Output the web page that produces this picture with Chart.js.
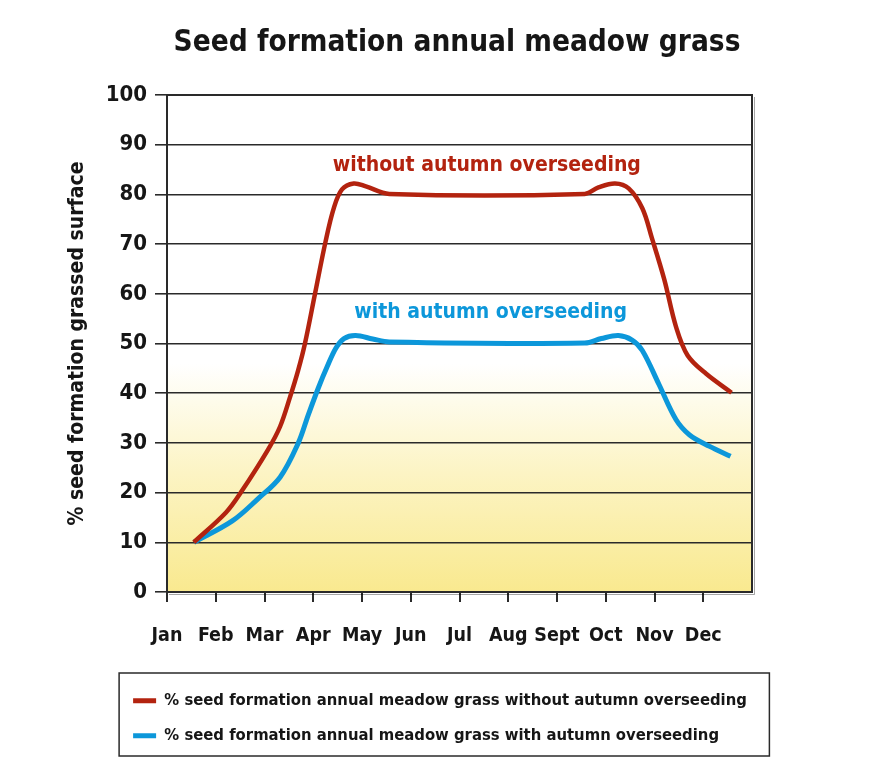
<!DOCTYPE html>
<html>
<head>
<meta charset="utf-8">
<script src="https://cdn.jsdelivr.net/npm/chart.js@4/dist/chart.umd.min.js"></script>
<style>
  html, body { margin: 0; padding: 0; background: #fff; }
  #wrap { width: 876px; height: 776px; position: relative; }
</style>
</head>
<body>
<div id="wrap"><canvas id="c" width="876" height="776"></canvas></div>
<script>
// ---- data ----
const months = ['Jan','Feb','Mar','Apr','May','Jun','Jul','Aug','Sept','Oct','Nov','Dec'];

// month position (0 = Jan) and % value
const withoutX = [0.55, 1.21, 1.52, 2.07, 2.32, 2.52, 2.69, 2.83, 3.04, 3.25, 3.42, 3.59, 3.83, 4.08, 4.56, 8.57, 8.85, 9.19, 9.47, 9.75, 9.95, 10.2, 10.44, 10.68, 11.06, 11.58];
const withoutY = [10, 16, 20.1, 28.6, 33.3, 39.1, 44.6, 50, 60.2, 70.4, 77.2, 81, 82.2, 81.6, 80.1, 80.1, 81.4, 82.2, 81.2, 77.2, 71.1, 62.9, 53.4, 47.6, 43.9, 40.1];

const withX = [0.55, 1.34, 1.86, 2.32, 2.69, 2.9, 3.11, 3.28, 3.46, 3.63, 3.87, 4.22, 4.56, 8.57, 8.91, 9.26, 9.54, 9.75, 10.09, 10.44, 10.72, 11.13, 11.56];
const withY = [10, 14.3, 18.7, 23.1, 29.9, 35.7, 41.2, 45.2, 49, 51, 51.6, 50.9, 50.3, 50.1, 51, 51.6, 50.7, 48.6, 41.8, 34.7, 31.6, 29.3, 27.3];

const seriesLabels = [
  '% seed formation annual meadow grass without autumn overseeding',
  '% seed formation annual meadow grass with autumn overseeding'
];
const annotationTexts = ['without autumn overseeding', 'with autumn overseeding'];
const annotationAt = [[6.56, 85.9], [6.64, 56.3]];

const titleText = 'Seed formation annual meadow grass';
const yTitle = '% seed formation grassed surface';

const RED = '#B3230F';
const BLUE = '#0C97DA';
const FONT = '"DejaVu Sans Condensed", "Liberation Sans Narrow", sans-serif';
const INK = '#161616';
const LEGEND_SHIFT = 17; // legend sits a little left of the title centre

const toPts = (xs, ys) => xs.map((x, i) => ({x, y: ys[i]}));

const bgPlugin = {
  id: 'bg',
  beforeDraw(chart) {
    const {ctx, chartArea: a, scales: {y}} = chart;
    const g = ctx.createLinearGradient(0, a.top, 0, a.bottom);
    const yStart = (y.getPixelForValue(46) - a.top) / (a.bottom - a.top);
    g.addColorStop(0, '#ffffff');
    g.addColorStop(yStart, '#ffffff');
    g.addColorStop(0.76, '#FCF4C4');
    g.addColorStop(1, '#F9E98F');
    ctx.save();
    ctx.fillStyle = g;
    ctx.fillRect(a.left, a.top, a.right - a.left, a.bottom - a.top);
    ctx.restore();
  },
  afterDraw(chart) {
    const {ctx, chartArea: a} = chart;
    ctx.save();
    ctx.strokeStyle = '#2a2a2a';
    ctx.lineWidth = 2;
    ctx.beginPath();
    ctx.moveTo(a.left, a.top);
    ctx.lineTo(a.right, a.top);
    ctx.lineTo(a.right, a.bottom);
    ctx.stroke();
    ctx.strokeStyle = 'rgba(0,0,0,0.35)';
    ctx.lineWidth = 1;
    ctx.beginPath();
    ctx.moveTo(a.right + 2.5, a.top + 2);
    ctx.lineTo(a.right + 2.5, a.bottom + 2.5);
    ctx.lineTo(a.left + 2, a.bottom + 2.5);
    ctx.stroke();
    // legend frame
    const lg = chart.legend;
    if (lg && lg.lineWidths && lg._realMax) {
      const P = lg.options.labels.padding;
      const x0 = (lg.left + P + lg.right - lg.lineWidths[0]) / 2;
      ctx.strokeStyle = '#2a2a2a';
      ctx.lineWidth = 1.5;
      ctx.strokeRect(x0 - 14, lg.top - 1, lg._realMax + 18, lg.bottom - lg.top + 3);
    }
    ctx.restore();
  }
};

const annPlugin = {
  id: 'ann',
  afterDatasetsDraw(chart) {
    const {ctx, scales: {x, y}} = chart;
    ctx.save();
    ctx.font = 'bold 21px ' + FONT;
    ctx.textAlign = 'center';
    ctx.textBaseline = 'middle';
    const cols = [RED, BLUE];
    annotationTexts.forEach((t, i) => {
      ctx.fillStyle = cols[i];
      ctx.fillText(t, x.getPixelForValue(annotationAt[i][0]), y.getPixelForValue(annotationAt[i][1]));
    });
    ctx.restore();
  }
};

const legendRowsPlugin = {
  id: 'legendRows',
  afterUpdate(chart) {
    const lg = chart.legend;
    if (lg && lg.lineWidths) {
      const m = Math.max(...lg.lineWidths);
      lg._realMax = m;
      lg.lineWidths = lg.lineWidths.map(() => m + 2 * LEGEND_SHIFT);
    }
  }
};

new Chart(document.getElementById('c'), {
  type: 'line',
  data: {
    datasets: [
      { label: seriesLabels[0], data: toPts(withoutX, withoutY), borderColor: RED, backgroundColor: RED, borderWidth: 4.5, pointRadius: 0, tension: 0.35, fill: false },
      { label: seriesLabels[1], data: toPts(withX, withY), borderColor: BLUE, backgroundColor: BLUE, borderWidth: 5, pointRadius: 0, tension: 0.35, fill: false }
    ]
  },
  options: {
    responsive: false,
    animation: false,
    layout: { padding: { left: 38, right: 0, top: 0, bottom: 22 } },
    plugins: {
      title: {
        display: true, text: titleText, color: INK,
        font: { family: FONT, size: 29.5, weight: 'bold', lineHeight: 1.2 },
        padding: { top: 26, bottom: 33.6 }
      },
      legend: {
        position: 'bottom',
        labels: {
          font: { family: FONT, size: 16.5, weight: 'bold' },
          color: INK,
          boxWidth: 23, boxHeight: 5, padding: 18.5,
          generateLabels(chart) {
            return chart.data.datasets.map((d, i) => ({
              text: d.label, fillStyle: d.borderColor, strokeStyle: d.borderColor,
              lineWidth: 0, hidden: false, datasetIndex: i, fontColor: INK
            }));
          }
        }
      },
      tooltip: { enabled: false }
    },
    scales: {
      x: {
        type: 'linear', min: 0, max: 12,
        afterFit(s) { s.height = 82; },
        ticks: {
          stepSize: 1, autoSkip: false, maxRotation: 0, padding: 22, color: INK,
          font: { family: FONT, size: 19.5, weight: 'bold' },
          callback: (v) => months[v] !== undefined ? months[v] : ''
        },
        grid: { drawOnChartArea: false, tickLength: 10, color: (c) => c.tick && c.tick.value === 12 ? 'rgba(0,0,0,0)' : '#2a2a2a', lineWidth: 2 },
        border: { display: true, color: '#2a2a2a', width: 2 }
      },
      y: {
        min: 0, max: 100,
        afterFit(s) { s.width = 129; },
        ticks: { stepSize: 10, padding: 8, color: INK, font: { family: FONT, size: 22, weight: 'bold' } },
        grid: { color: '#2a2a2a', lineWidth: 1.6, tickLength: 12 },
        border: { display: true, color: '#2a2a2a', width: 2 },
        title: { display: true, text: yTitle, color: INK, font: { family: FONT, size: 21, weight: 'bold' }, padding: { top: 27, bottom: 0 } }
      },
      y2: {
        position: 'right', display: true,
        afterFit(s) { s.width = 124; },
        ticks: { display: false }, grid: { display: false }, border: { display: false }
      }
    }
  },
  plugins: [bgPlugin, annPlugin, legendRowsPlugin]
});
</script>
</body>
</html>
